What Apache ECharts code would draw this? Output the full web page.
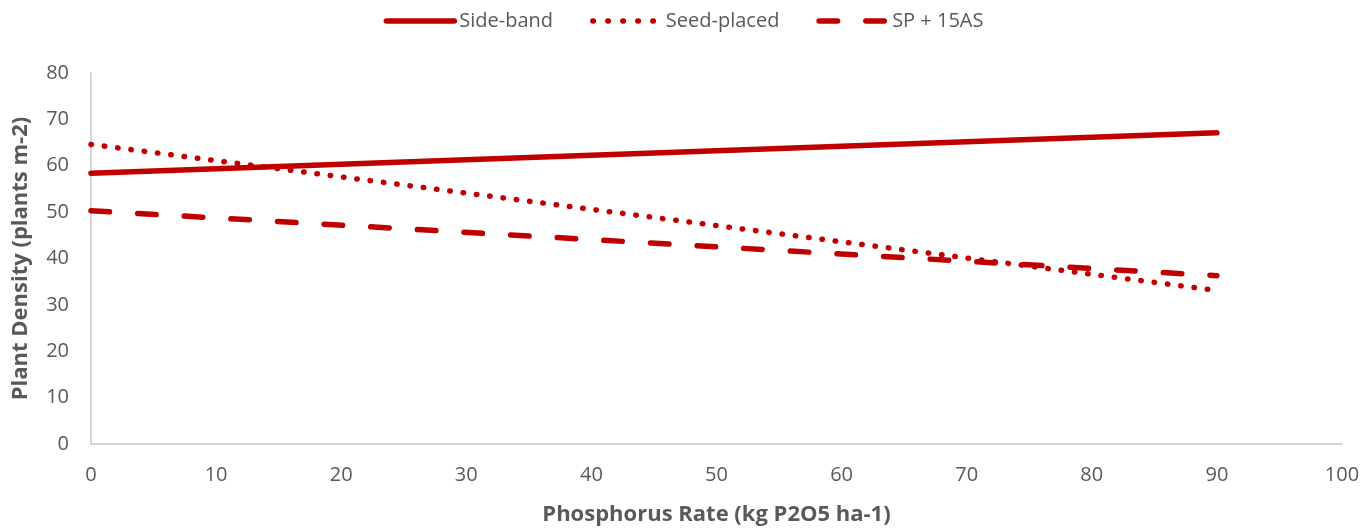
<!DOCTYPE html>
<html>
<head>
<meta charset="utf-8">
<script src="https://cdn.jsdelivr.net/npm/echarts@6/dist/echarts.min.js"></script>
<style>
  html, body { margin: 0; padding: 0; background: #fff; }
  #chart { width: 1367px; height: 531px; }
</style>
</head>
<body>
<div id="chart"></div>
<script>
// Phosphorus rate (kg P2O5 ha-1) at the ends of each fitted line
const rates = [0, 90];
// Plant density (plants m-2) for each placement method
const sideBand = [58.4, 67.1];
const seedPlaced = [64.6, 33.1];
const sp15AS = [50.3, 36.3];

const seriesNames = ['Side-band', 'Seed-placed', 'SP + 15AS'];
const xTicks = [0, 10, 20, 30, 40, 50, 60, 70, 80, 90, 100];
const yTicks = [0, 10, 20, 30, 40, 50, 60, 70, 80];

const RED = '#C00000';
const TEXT = '#595959';
const FONT = '"Open Sans", "Liberation Sans", sans-serif';
const LINE_W = 5.5;
const DOTTED = [0.5, 12.9];
const DASHED = [18.5, 28.2];
const seriesDashes = ['solid', DOTTED, DASHED];
// legend swatches: five dots / two dashes per swatch
const legendDashes = ['solid', [0.5, 14.5], DASHED];

function pairs(xs, ys) {
  return xs.map((x, i) => [x, ys[i]]);
}

function lineSeries(name, values, dash) {
  return {
    name: name,
    type: 'line',
    data: pairs(rates, values),
    symbol: 'none',
    showSymbol: false,
    silent: true,
    lineStyle: { color: RED, width: LINE_W, type: dash, cap: 'round' },
    itemStyle: { color: RED }
  };
}

const chart = echarts.init(document.getElementById('chart'), null, { renderer: 'canvas' });
chart.setOption({
  animation: false,
  textStyle: { fontFamily: FONT },
  legend: {
    top: 6,
    left: 'center',
    itemWidth: 68,
    itemHeight: 14,
    itemGap: 37,
    itemStyle: { opacity: 0 },
    textStyle: { color: TEXT, fontSize: 20, fontFamily: FONT },
    data: seriesNames.map((n, i) => ({
      name: n,
      lineStyle: { color: RED, width: LINE_W, type: legendDashes[i], cap: 'round' }
    }))
  },
  grid: { left: 91, right: 25, top: 73, bottom: 83, containLabel: false },
  xAxis: {
    type: 'value',
    min: xTicks[0],
    max: xTicks[xTicks.length - 1],
    interval: 10,
    name: 'Phosphorus Rate (kg P2O5 ha-1)',
    nameLocation: 'middle',
    nameGap: 60,
    nameTextStyle: { color: TEXT, fontSize: 22, fontWeight: 'bold', fontFamily: FONT },
    axisLine: { show: true, lineStyle: { color: '#C8C8C8', width: 1.5 } },
    axisTick: { show: false },
    splitLine: { show: false },
    axisLabel: { color: TEXT, fontSize: 20, margin: 21, fontFamily: FONT }
  },
  yAxis: {
    type: 'value',
    min: yTicks[0],
    max: yTicks[yTicks.length - 1],
    interval: 10,
    name: 'Plant Density (plants m-2)',
    nameLocation: 'middle',
    nameGap: 59,
    nameTextStyle: { color: TEXT, fontSize: 22, fontWeight: 'bold', fontFamily: FONT },
    axisLine: { show: true, lineStyle: { color: '#C8C8C8', width: 1.5 } },
    axisTick: { show: false },
    splitLine: { show: false },
    axisLabel: { color: TEXT, fontSize: 20, margin: 22, fontFamily: FONT }
  },
  series: [
    lineSeries(seriesNames[0], sideBand, seriesDashes[0]),
    lineSeries(seriesNames[1], seedPlaced, seriesDashes[1]),
    lineSeries(seriesNames[2], sp15AS, seriesDashes[2])
  ]
});
</script>
</body>
</html>
